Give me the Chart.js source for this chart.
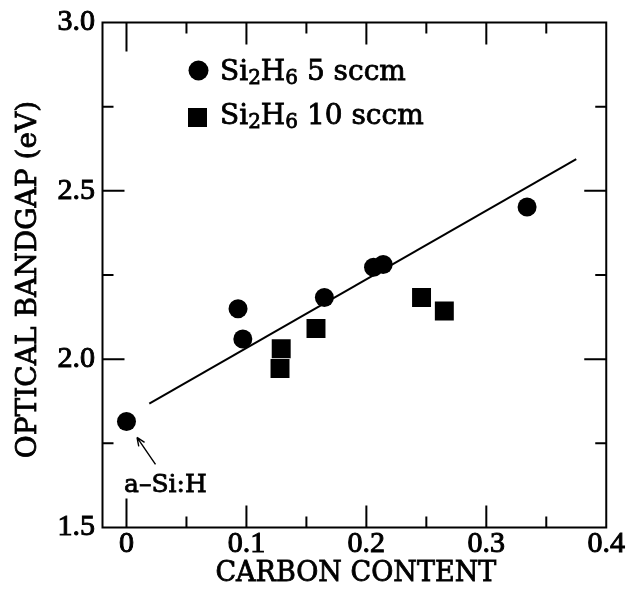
<!DOCTYPE html>
<html>
<head>
<meta charset="utf-8">
<script src="https://cdn.jsdelivr.net/npm/chart.js@4.4.1/dist/chart.umd.min.js"></script>
<style>
  html, body { margin: 0; padding: 0; background: #fff; }
  #c { display: block; }
</style>
</head>
<body>
<canvas id="c" width="627" height="590"></canvas>
<script>
// ---- data ----
const circleX = [0, 0.093, 0.097, 0.165, 0.206, 0.214, 0.334];
const circleY = [1.815, 2.150, 2.060, 2.183, 2.273, 2.281, 2.452];
const squareX = [0.129, 0.128, 0.158, 0.246, 0.265];
const squareY = [2.031, 1.972, 2.091, 2.183, 2.143];
const fitX = [0.019, 0.375];
const fitY = [1.868, 2.594];

const xTicks = [0, 0.1, 0.2, 0.3, 0.4];
const xTickLabels = ["0", "0.1", "0.2", "0.3", "0.4"];
const yTicks = [1.5, 2.0, 2.5, 3.0];
const yTickLabels = ["1.5", "2.0", "2.5", "3.0"];
const xMajorMarks = [0, 0.1, 0.2, 0.3];
const xMinorMarks = [0.05, 0.15, 0.25, 0.35];
const yMajorMarks = [2.0, 2.5];
const yMinorMarks = [1.75, 2.25, 2.75];

const seriesNames = ["5 sccm", "10 sccm"];
const xTitle = "CARBON CONTENT";
const yTitle = "OPTICAL BANDGAP (eV)";
const annotText = "a\u2013Si:H";

const toPts = (xs, ys) => xs.map((x, i) => ({ x: x, y: ys[i] }));

const TEXT_FONT = "'DejaVu Serif', 'Liberation Serif', serif";
const NUM_FONT = "'Liberation Serif', 'DejaVu Serif', serif";
const HEAVY = 0.8; // extra stroke to match the heavy scanned type

function heavyText(ctx, t, x, y) {
  ctx.fillText(t, x, y);
  ctx.lineWidth = HEAVY;
  ctx.strokeText(t, x, y);
}

const framePlugin = {
  id: 'frame',
  afterDatasetsDraw(chart) {
    const { ctx, chartArea: a, scales: { x, y } } = chart;
    ctx.save();
    ctx.strokeStyle = '#000';
    ctx.fillStyle = '#000';
    ctx.lineWidth = 2;
    ctx.strokeRect(a.left, a.top, a.right - a.left, a.bottom - a.top);
    ctx.beginPath();
    const vt = (v, len) => {
      const px = x.getPixelForValue(v);
      ctx.moveTo(px, a.bottom); ctx.lineTo(px, a.bottom - len);
      ctx.moveTo(px, a.top); ctx.lineTo(px, a.top + len);
    };
    const ht = (v, len) => {
      const py = y.getPixelForValue(v);
      ctx.moveTo(a.left, py); ctx.lineTo(a.left + len, py);
      ctx.moveTo(a.right, py); ctx.lineTo(a.right - len, py);
    };
    xMajorMarks.forEach(v => vt(v, v === 0 ? 29 : 22));
    xMinorMarks.forEach(v => vt(v, 11));
    yMajorMarks.forEach(v => ht(v, 22));
    yMinorMarks.forEach(v => ht(v, 11));
    ctx.stroke();

    // axis titles
    ctx.textAlign = 'center';
    ctx.textBaseline = 'middle';
    ctx.font = "27px " + TEXT_FONT;
    heavyText(ctx, xTitle, (a.left + a.right) / 2 + 1.5, 573.5);
    ctx.save();
    ctx.translate(28.5, (a.top + a.bottom) / 2 + 4.5);
    ctx.rotate(-Math.PI / 2);
    ctx.font = "28px " + TEXT_FONT;
    heavyText(ctx, yTitle, 0, 0);
    ctx.restore();

    // legend
    ctx.beginPath();
    ctx.arc(198.5, 70.5, 10, 0, Math.PI * 2);
    ctx.fill();
    ctx.fillRect(188, 108, 19, 19);
    const drawLabel = (x0, base, rest) => {
      let xx = x0;
      ctx.textBaseline = 'alphabetic';
      ctx.textAlign = 'left';
      const big = "28px " + TEXT_FONT, small = "20px " + TEXT_FONT;
      const parts = [["Si", big, 0], ["2", small, 4], ["H", big, 0], ["6", small, 4], [" " + rest, big, 0]];
      parts.forEach(([t, f, dy]) => {
        ctx.font = f;
        heavyText(ctx, t, xx, base + dy);
        xx += ctx.measureText(t).width;
      });
    };
    drawLabel(220, 80, seriesNames[0]);
    drawLabel(220, 123.5, seriesNames[1]);

    // annotation for a-Si:H
    const px0 = x.getPixelForValue(circleX[0]);
    const py0 = y.getPixelForValue(circleY[0]);
    ctx.font = "25px " + TEXT_FONT;
    ctx.textAlign = 'left';
    ctx.textBaseline = 'alphabetic';
    heavyText(ctx, annotText, px0 - 2.5, py0 + 71);
    // arrow
    const tx = px0 + 10.5, ty = py0 + 16, sx = px0 + 29, sy = py0 + 43;
    ctx.lineWidth = 1.4;
    ctx.beginPath();
    ctx.moveTo(sx, sy); ctx.lineTo(tx, ty);
    const ang = Math.atan2(ty - sy, tx - sx);
    const hl = 9, ha = 0.4;
    ctx.moveTo(tx, ty); ctx.lineTo(tx - hl * Math.cos(ang - ha), ty - hl * Math.sin(ang - ha));
    ctx.moveTo(tx, ty); ctx.lineTo(tx - hl * Math.cos(ang + ha), ty - hl * Math.sin(ang + ha));
    ctx.stroke();
    ctx.restore();
  }
};

new Chart(document.getElementById('c'), {
  type: 'scatter',
  data: {
    datasets: [
      {
        label: 'fit', type: 'line', data: toPts(fitX, fitY), showLine: true,
        borderColor: '#000', borderWidth: 2, pointRadius: 0, fill: false, tension: 0
      },
      {
        label: 'Si2H6 ' + seriesNames[0], data: toPts(circleX, circleY), pointStyle: 'circle',
        pointRadius: 9.5, backgroundColor: '#000', borderColor: '#000', borderWidth: 0
      },
      {
        label: 'Si2H6 ' + seriesNames[1], data: toPts(squareX, squareY), pointStyle: 'rect',
        pointRadius: 13.4, backgroundColor: '#000', borderColor: '#000', borderWidth: 0
      }
    ]
  },
  options: {
    responsive: false,
    animation: false,
    events: [],
    layout: { padding: { top: 17.5, right: 20.5, bottom: 0, left: 0 } },
    plugins: { legend: { display: false }, tooltip: { enabled: false } },
    scales: {
      x: {
        type: 'linear', min: -0.02, max: 0.4,
        afterBuildTicks: s => { s.ticks = xTicks.map(v => ({ value: v })); },
        afterFit: s => { s.height = 62.5; },
        grid: { display: false, drawTicks: false },
        border: { display: false },
        ticks: {
          autoSkip: false, maxRotation: 0, padding: 2, color: '#000',
          textStrokeColor: '#000', textStrokeWidth: 1,
          font: { family: NUM_FONT, size: 30, lineHeight: 1 },
          callback: (v, i) => xTickLabels[i]
        },
        title: { display: false, text: xTitle }
      },
      y: {
        type: 'linear', min: 1.5, max: 3.0,
        afterBuildTicks: s => { s.ticks = yTicks.map(v => ({ value: v })); },
        afterFit: s => { s.width = 102.5; },
        grid: { display: false, drawTicks: false },
        border: { display: false },
        ticks: {
          autoSkip: false, padding: 7.5, color: '#000',
          textStrokeColor: '#000', textStrokeWidth: 1,
          font: { family: NUM_FONT, size: 30, lineHeight: 1 },
          callback: (v, i) => yTickLabels[i]
        },
        title: { display: false, text: yTitle }
      }
    }
  },
  plugins: [framePlugin]
});
</script>
</body>
</html>
